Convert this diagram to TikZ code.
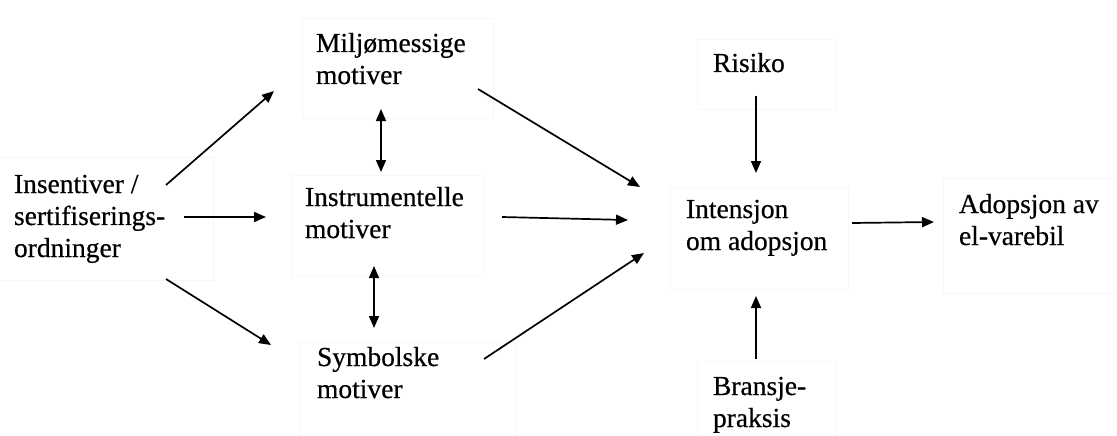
\documentclass[tikz,border=0pt]{standalone}
\usepackage{fontspec}
\setmainfont{Liberation Serif}[FakeBold=0.5]
\usetikzlibrary{arrows.meta}
\tikzset{
  lbl/.style={anchor=base west, inner sep=0pt, outer sep=0pt,
    font=\fontsize{27.5}{32}\selectfont},
  faintbox/.style={draw=black!3, line width=0.8pt},
  arr/.style={line width=1.7pt, -{Triangle[length=12pt,width=10pt]}},
  darr/.style={line width=1.7pt, {Triangle[length=12pt,width=10pt]}-{Triangle[length=12pt,width=10pt]}}
}
\newcommand{\twol}[2]{\begin{tabular}[t]{@{}l@{}}#1\\#2\end{tabular}}
\begin{document}
\begin{tikzpicture}[x=1pt,y=-1pt]
\useasboundingbox (0,0) rectangle (1117,436);
\fill[white] (0,0) rectangle (1117,436);
% faint boxes
\draw[faintbox] (-5,157) rectangle (213,280);
\draw[faintbox] (302,18) rectangle (493,118);
\draw[faintbox] (291,175) rectangle (483,275);
\draw[faintbox] (300,342) rectangle (515,445);
\draw[faintbox] (697,39) rectangle (835,109);
\draw[faintbox] (670,187) rectangle (848,289);
\draw[faintbox] (943,178) rectangle (1125,293);
\draw[faintbox] (697,361) rectangle (835,445);
% texts
\node[lbl] (ins) at (14,193) {\begin{tabular}[t]{@{}l@{}}Insentiver /\\sertifiserings-\\ordninger\end{tabular}};
\node[lbl] (milj) at (316,52) {\twol{Miljømessige}{motiver}};
\node[lbl] (instr) at (305,206) {\twol{Instrumentelle}{motiver}};
\node[lbl] (symb) at (317,366) {\twol{Symbolske}{motiver}};
\node[lbl] (ris) at (713,72) {Risiko};
\node[lbl] (int) at (686,218) {\twol{Intensjon}{om adopsjon}};
\node[lbl] (adop) at (959,213) {\twol{Adopsjon av}{el-varebil}};
\node[lbl] (bran) at (713,395) {\twol{Bransje-}{praksis}};
% arrow end points
\coordinate (insA) at (166,185);
\coordinate (miljIn) at (274,91);
\coordinate (insB) at (184,217);
\coordinate (instrIn) at (266,217);
\coordinate (insC) at (166,279);
\coordinate (symbIn) at (271,345);
\coordinate (miljBot) at (381,109);
\coordinate (instrTop) at (381,172);
\coordinate (instrBot) at (374,266);
\coordinate (symbTop) at (374,328);
\coordinate (miljOut) at (478,89);
\coordinate (intInA) at (640,187);
\coordinate (instrOut) at (502,217);
\coordinate (intInB) at (628,220);
\coordinate (symbOut) at (484,359);
\coordinate (intInC) at (644,253);
\coordinate (risOut) at (756,96);
\coordinate (intTop) at (756,173);
\coordinate (branOut) at (756,359);
\coordinate (intBot) at (756,296);
\coordinate (intOut) at (852,223);
\coordinate (adopIn) at (934,222);
% arrows
\draw[arr] (insA) -- (miljIn);
\draw[arr] (insB) -- (instrIn);
\draw[arr] (insC) -- (symbIn);
\draw[darr] (miljBot) -- (instrTop);
\draw[darr] (instrBot) -- (symbTop);
\draw[arr] (miljOut) -- (intInA);
\draw[arr] (instrOut) -- (intInB);
\draw[arr] (symbOut) -- (intInC);
\draw[arr] (risOut) -- (intTop);
\draw[arr] (branOut) -- (intBot);
\draw[arr] (intOut) -- (adopIn);
\end{tikzpicture}
\end{document}
